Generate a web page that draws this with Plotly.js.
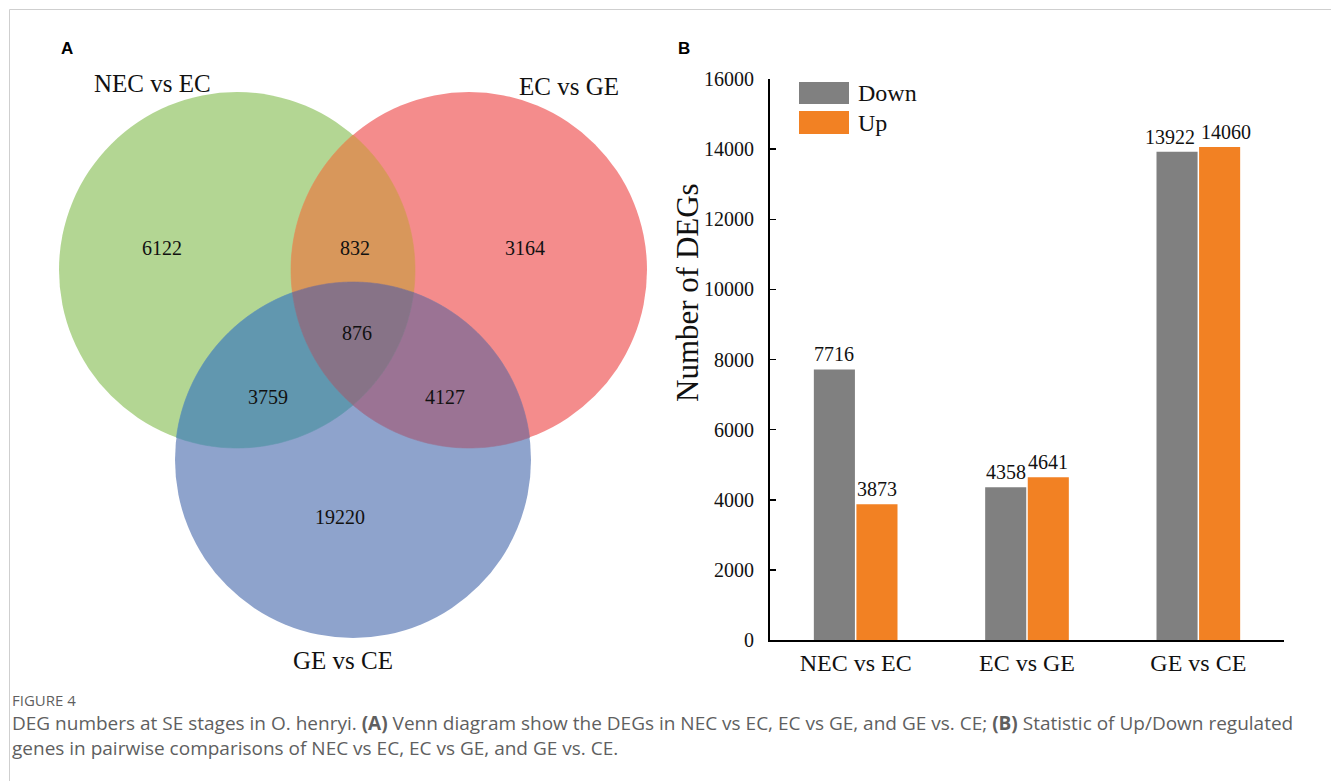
<!DOCTYPE html>
<html>
<head>
<meta charset="utf-8">
<script src="https://cdn.plot.ly/plotly-3.0.1.min.js"></script>
<style>
  html, body { margin: 0; padding: 0; background: #ffffff; }
  #chart { width: 1331px; height: 781px; }
</style>
</head>
<body>
<div id="chart"></div>
<script>
// ---------------- DATA ----------------
// Venn diagram (panel A)
const vennSets = ['NEC vs EC', 'EC vs GE', 'GE vs CE'];
const vennRegionLabels = ['NEC vs EC only', 'NEC vs EC ∩ EC vs GE', 'EC vs GE only',
                          'all three', 'NEC vs EC ∩ GE vs CE', 'EC vs GE ∩ GE vs CE', 'GE vs CE only'];
const vennRegionCounts = [6122, 832, 3164, 876, 3759, 4127, 19220];

// Bar chart (panel B)
const comparisons = ['NEC vs EC', 'EC vs GE', 'GE vs CE'];
const downCounts = [7716, 4358, 13922];
const upCounts = [3873, 4641, 14060];
const seriesNames = ['Down', 'Up'];
const yTickVals = [0, 2000, 4000, 6000, 8000, 10000, 12000, 14000, 16000];

const captionHead = 'FIGURE 4';
const captionLine1 = 'DEG numbers at SE stages in O. henryi. <b>(A)</b> Venn diagram show the DEGs in NEC vs EC, EC vs GE, and GE vs. CE; <b>(B)</b> Statistic of Up/Down regulated';
const captionLine2 = 'genes in pairwise comparisons of NEC vs EC, EC vs GE, and GE vs. CE.';

// ---------------- LAYOUT CONSTANTS (pixel space) ----------------
const W = 1331, H = 781;
const serif = 'Liberation Serif, Times New Roman, serif';
const sans = 'Liberation Sans, Arial, sans-serif';

// circles: green (NEC vs EC), red (EC vs GE), blue (GE vs CE)
const G = { cx: 237, cy: 270, r: 178 };
const R = { cx: 469, cy: 270, r: 178 };
const B = { cx: 353, cy: 460, r: 178 };
const colG = '#B3D693', colR = '#F48C8C', colB = '#8EA3CC';
const colGR = '#D8975B', colGB = '#6197AF', colRB = '#9B7394', colGRB = '#877387';

const setLabelPos = [[152, 83], [569, 86], [343, 660]];
const regionPos = [[162, 248], [355, 248], [525, 248], [357, 333], [268, 397], [445, 397], [340, 517]];

const greyCol = '#808080';
const orangeCol = '#F28123';
const xDomPx = [770, 1284], yDomPx = [79, 640];
const bargap = 0.503, bargroupgap = 0.035;
const barFont = 20;

// ---------------- VENN GEOMETRY HELPERS ----------------
function inside(c, p) { return Math.hypot(p[0] - c.cx, p[1] - c.cy) < c.r - 0.5; }
function intersect(a, b) {
  const dx = b.cx - a.cx, dy = b.cy - a.cy, d = Math.hypot(dx, dy);
  const l = (a.r * a.r - b.r * b.r + d * d) / (2 * d);
  const h = Math.sqrt(a.r * a.r - l * l);
  const mx = a.cx + l * dx / d, my = a.cy + l * dy / d;
  return [[mx + h * dy / d, my - h * dx / d], [mx - h * dy / d, my + h * dx / d]];
}
function splitPts(a, b, third) {
  const pts = intersect(a, b);
  return inside(third, pts[0]) ? { inner: pts[0], outer: pts[1] } : { inner: pts[1], outer: pts[0] };
}
// arc on circle c from p to q, choosing direction whose midpoint passes test
function arc(c, p, q, test) {
  const a0 = Math.atan2(p[1] - c.cy, p[0] - c.cx);
  let a1 = Math.atan2(q[1] - c.cy, q[0] - c.cx);
  let d = a1 - a0;
  while (d <= 0) d += 2 * Math.PI;
  const cands = [d, d - 2 * Math.PI];
  let sweep = cands[0];
  for (const s of cands) {
    const am = a0 + s / 2;
    const m = [c.cx + c.r * Math.cos(am), c.cy + c.r * Math.sin(am)];
    if (test(m)) { sweep = s; break; }
  }
  const n = 72, out = [];
  for (let i = 0; i <= n; i++) {
    const a = a0 + sweep * i / n;
    out.push([c.cx + c.r * Math.cos(a), c.cy + c.r * Math.sin(a)]);
  }
  return out;
}
function toPath(pts) {
  return 'M' + pts.map(p => p[0].toFixed(2) + ',' + p[1].toFixed(2)).join('L') + 'Z';
}
const GR = splitPts(G, R, B), GB = splitPts(G, B, R), RB = splitPts(R, B, G);
const regionGR = [].concat(
  arc(G, GR.outer, GB.inner, m => inside(R, m)),
  arc(B, GB.inner, RB.inner, m => inside(G, m) && inside(R, m)),
  arc(R, RB.inner, GR.outer, m => inside(G, m)));
const regionGB = [].concat(
  arc(G, GB.outer, GR.inner, m => inside(B, m)),
  arc(R, GR.inner, RB.inner, m => inside(G, m) && inside(B, m)),
  arc(B, RB.inner, GB.outer, m => inside(G, m)));
const regionRB = [].concat(
  arc(R, RB.outer, GR.inner, m => inside(B, m)),
  arc(G, GR.inner, GB.inner, m => inside(R, m) && inside(B, m)),
  arc(B, GB.inner, RB.outer, m => inside(R, m)));
const regionGRB = [].concat(
  arc(G, GR.inner, GB.inner, m => inside(R, m) && inside(B, m)),
  arc(B, GB.inner, RB.inner, m => inside(G, m) && inside(R, m)),
  arc(R, RB.inner, GR.inner, m => inside(G, m) && inside(B, m)));

// ---------------- TRACES ----------------
const traces = [
  { type: 'bar', name: seriesNames[0], x: comparisons, y: downCounts,
    marker: { color: greyCol }, xaxis: 'x', yaxis: 'y', showlegend: false },
  { type: 'bar', name: seriesNames[1], x: comparisons, y: upCounts,
    marker: { color: orangeCol }, xaxis: 'x', yaxis: 'y', showlegend: false }
];

// ---------------- SHAPES ----------------
const shapes = [];
shapes.push({ type: 'rect', xref: 'x2', yref: 'y2', x0: 9.5, y0: 9.5, x1: 1345, y1: 795,
  line: { color: '#cfcfcf', width: 1 }, fillcolor: 'rgba(0,0,0,0)', layer: 'below' });
[[G, colG], [R, colR], [B, colB]].forEach(([c, col]) => shapes.push({
  type: 'circle', xref: 'x2', yref: 'y2',
  x0: c.cx - c.r, x1: c.cx + c.r, y0: c.cy - c.r, y1: c.cy + c.r,
  fillcolor: col, line: { width: 0 }
}));
[[regionGR, colGR], [regionGB, colGB], [regionRB, colRB], [regionGRB, colGRB]].forEach(([pts, col]) =>
  shapes.push({ type: 'path', xref: 'x2', yref: 'y2', path: toPath(pts),
    fillcolor: col, line: { color: col, width: 0.6 } }));
// custom legend swatches
const legendSw = [[799, 82, 849, 104, greyCol], [799, 111, 849, 134, orangeCol]];
legendSw.forEach(s => shapes.push({
  type: 'rect', xref: 'x2', yref: 'y2', x0: s[0], y0: s[1], x1: s[2], y1: s[3],
  fillcolor: s[4], line: { width: 0 }
}));

// ---------------- ANNOTATIONS ----------------
const ann = [];
vennSets.forEach((t, i) => ann.push({
  xref: 'x2', yref: 'y2', x: setLabelPos[i][0], y: setLabelPos[i][1], text: t, showarrow: false,
  font: { family: serif, size: 25, color: '#111' }, xanchor: 'center', yanchor: 'middle'
}));
vennRegionCounts.forEach((v, i) => ann.push({
  xref: 'x2', yref: 'y2', x: regionPos[i][0], y: regionPos[i][1], text: String(v), showarrow: false,
  font: { family: serif, size: 20, color: '#111' }, xanchor: 'center', yanchor: 'middle'
}));

// bar value labels (positioned from data through the axes)
const catPx = (xDomPx[1] - xDomPx[0]) / comparisons.length;
const halfOff = catPx * (1 - bargap) / 4;
comparisons.forEach((c, i) => {
  const wD = String(downCounts[i]).length * 0.5 * barFont;
  const wU = String(upCounts[i]).length * 0.5 * barFont;
  const overlap = (wD + wU) / 2 - 2 * halfOff;
  const spread = overlap > -2 ? overlap / 2 + 3 : 0;
  [[downCounts[i], -halfOff - spread], [upCounts[i], halfOff + spread]].forEach(([v, sh]) =>
    ann.push({ xref: 'x', yref: 'y', x: c, y: v, text: String(v), showarrow: false,
      xshift: sh, yshift: 2, xanchor: 'center', yanchor: 'bottom',
      font: { family: serif, size: barFont, color: '#111' } }));
});

// y axis title
ann.push({ xref: 'x2', yref: 'y2', x: 687, y: 293, text: 'Number of DEGs', textangle: -90, showarrow: false,
  font: { family: serif, size: 31, color: '#111' }, xanchor: 'center', yanchor: 'middle' });
// panel letters
ann.push({ xref: 'x2', yref: 'y2', x: 67, y: 48, text: '<b>A</b>', showarrow: false,
  font: { family: sans, size: 17, color: '#000' }, xanchor: 'center', yanchor: 'middle' });
ann.push({ xref: 'x2', yref: 'y2', x: 684, y: 48, text: '<b>B</b>', showarrow: false,
  font: { family: sans, size: 17, color: '#000' }, xanchor: 'center', yanchor: 'middle' });
// legend labels
ann.push({ xref: 'x2', yref: 'y2', x: 856, y: 93, text: seriesNames[0], showarrow: false,
  font: { family: serif, size: 24, color: '#111' }, xanchor: 'left', yanchor: 'middle' });
ann.push({ xref: 'x2', yref: 'y2', x: 856, y: 123, text: seriesNames[1], showarrow: false,
  font: { family: serif, size: 24, color: '#111' }, xanchor: 'left', yanchor: 'middle' });
// caption
ann.push({ xref: 'x2', yref: 'y2', x: 10, y: 700, text: captionHead, showarrow: false,
  font: { family: 'Open Sans, sans-serif', size: 15, color: '#5f5f5f' }, xanchor: 'left', yanchor: 'middle' });
ann.push({ xref: 'x2', yref: 'y2', x: 10, y: 723, text: captionLine1, showarrow: false,
  font: { family: 'Open Sans, sans-serif', size: 19, color: '#5f5f5f' }, xanchor: 'left', yanchor: 'middle' });
ann.push({ xref: 'x2', yref: 'y2', x: 10, y: 748, text: captionLine2, showarrow: false,
  font: { family: 'Open Sans, sans-serif', size: 19, color: '#5f5f5f' }, xanchor: 'left', yanchor: 'middle' });

// ---------------- LAYOUT ----------------
const layout = {
  width: W, height: H,
  margin: { l: 0, r: 0, t: 0, b: 0, pad: 0 },
  paper_bgcolor: '#ffffff', plot_bgcolor: 'rgba(0,0,0,0)',
  showlegend: false,
  barmode: 'group', bargap: bargap, bargroupgap: bargroupgap,
  xaxis: {
    domain: [xDomPx[0] / W, xDomPx[1] / W], anchor: 'y',
    showline: true, linecolor: '#000', linewidth: 2,
    ticks: '', showgrid: false, zeroline: false,
    tickfont: { family: serif, size: 24, color: '#111' },
    ticklabelstandoff: 0
  },
  yaxis: {
    domain: [1 - yDomPx[1] / H, 1 - yDomPx[0] / H], anchor: 'x',
    range: [0, 16000], tickvals: yTickVals, tickformat: 'd',
    showline: true, linecolor: '#000', linewidth: 2,
    ticks: 'inside', ticklen: 6, tickwidth: 1.5, tickcolor: '#000',
    showgrid: false, zeroline: false,
    tickfont: { family: serif, size: 20, color: '#111' },
    ticklabelstandoff: 10
  },
  xaxis2: { domain: [0, 1], range: [0, W], anchor: 'y2', visible: false, fixedrange: true },
  yaxis2: { domain: [0, 1], range: [H, 0], anchor: 'x2', visible: false, fixedrange: true },
  shapes: shapes,
  annotations: ann
};

Plotly.newPlot('chart', traces, layout, { displayModeBar: false, staticPlot: true });
</script>
</body>
</html>
